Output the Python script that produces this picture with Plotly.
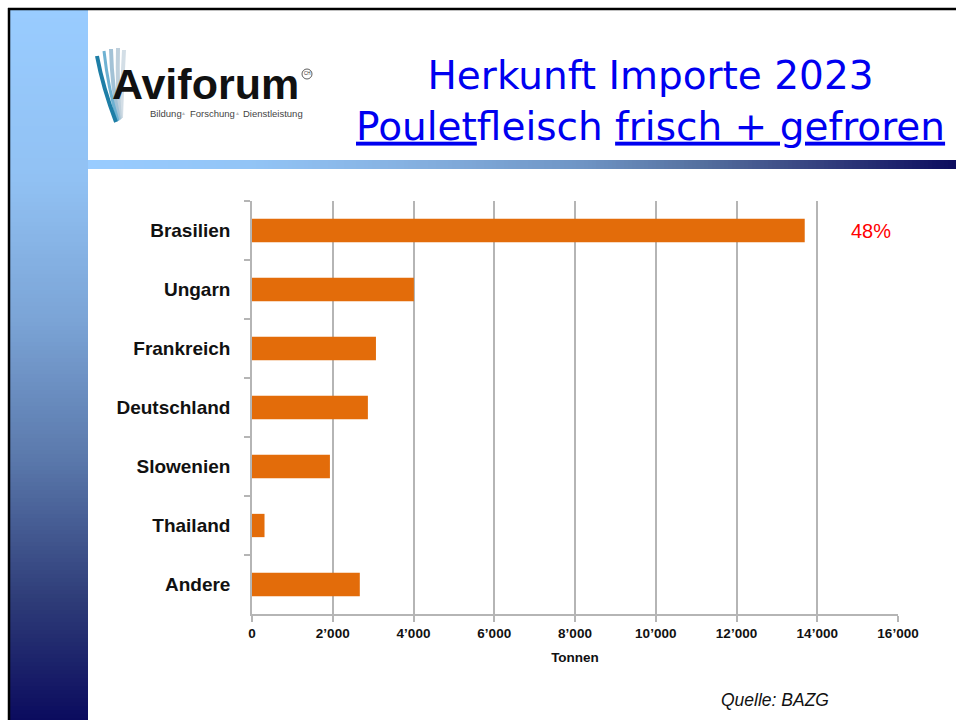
import plotly.graph_objects as go

# ---------------- data ----------------
countries = ["Brasilien", "Ungarn", "Frankreich", "Deutschland", "Slowenien", "Thailand", "Andere"]
tonnen = [13690, 4010, 3070, 2870, 1930, 310, 2670]
tick_values = [0, 2000, 4000, 6000, 8000, 10000, 12000, 14000, 16000]
tick_labels = ["0", "2’000", "4’000", "6’000", "8’000", "10’000", "12’000", "14’000", "16’000"]
axis_title = "Tonnen"
source_text = "Quelle: BAZG"
title_line1 = "Herkunft Importe 2023"
title_line2 = "<u>Poulet</u>fleisch <u>frisch + gefroren</u>"

W, H = 956, 720
L, R, T, B = 252, 898, 201, 614


def px(x):
    return (x - L) / (R - L)


def py(y):
    return (B - y) / (B - T)


def hex2rgb(h):
    h = h.lstrip("#")
    return tuple(int(h[i:i + 2], 16) for i in (0, 2, 4))


def interp(stops, v):
    for (a, ca), (b, cb) in zip(stops[:-1], stops[1:]):
        if a <= v <= b:
            t = (v - a) / (b - a) if b > a else 0
            c1, c2 = hex2rgb(ca), hex2rgb(cb)
            return "rgb(%d,%d,%d)" % tuple(round(c1[i] + (c2[i] - c1[i]) * t) for i in range(3))
    return stops[-1][1] if v > stops[-1][0] else stops[0][1]


fig = go.Figure()
fig.add_trace(go.Bar(
    y=countries, x=tonnen, orientation="h",
    marker=dict(color="#E36C0A", line=dict(width=0)),
    hoverinfo="x+y",
))

total = sum(tonnen)
share = f"{round(100 * tonnen[0] / total)}%"

shapes = []
# left vertical gradient column
vstops = [(10, "#99CCFF"), (180, "#91C1F3"), (320, "#7BA4D6"), (460, "#5A78AB"),
          (600, "#2E3C78"), (720, "#0B0B5E")]
step = 4
y = 10
while y < 720:
    y2 = min(y + step, 720)
    shapes.append(dict(type="rect", xref="paper", yref="paper", x0=px(10), x1=px(88),
                       y0=py(y), y1=py(y2 + 0.6), line=dict(width=0),
                       fillcolor=interp(vstops, (y + y2) / 2), layer="below"))
    y = y2
# horizontal gradient bar
hstops = [(88, "#99CCFF"), (250, "#92C4F6"), (400, "#86B2E2"), (580, "#6F95C5"),
          (700, "#55709F"), (800, "#3A4883"), (956, "#0C0C5E")]
x = 88
while x < 956:
    x2 = min(x + step, 956)
    shapes.append(dict(type="rect", xref="paper", yref="paper", x0=px(x), x1=px(x2 + 0.6),
                       y0=py(169), y1=py(160), line=dict(width=0),
                       fillcolor=interp(hstops, (x + x2) / 2), layer="below"))
    x = x2
# black frame lines
shapes.append(dict(type="line", xref="paper", yref="paper", x0=px(8), x1=px(956),
                   y0=py(9), y1=py(9), line=dict(color="#000", width=2.5)))
shapes.append(dict(type="line", xref="paper", yref="paper", x0=px(9), x1=px(9),
                   y0=py(8), y1=py(720), line=dict(color="#000", width=2.5)))


# logo swoosh strokes
def path(points):
    s = "M %f,%f" % (px(points[0][0]), py(points[0][1]))
    s += " Q %f,%f %f,%f" % (px(points[1][0]), py(points[1][1]), px(points[2][0]), py(points[2][1]))
    return s


swoosh = [
    ([(124, 50), (122, 88), (121, 118)], "#D3DEE6", 4),
    ([(118, 48), (117, 88), (120, 119)], "#BFD0DC", 4),
    ([(111, 49), (112, 88), (119, 120)], "#A3C2D6", 4),
    ([(104, 51), (108, 88), (118, 121)], "#6FB2D2", 3),
    ([(97, 56), (103, 88), (116, 122)], "#1E7EA6", 4),
]
for pts, col, w in swoosh:
    shapes.append(dict(type="path", xref="paper", yref="paper", path=path(pts),
                       line=dict(color=col, width=w)))
# registered CH circle
shapes.append(dict(type="circle", xref="paper", yref="paper", x0=px(302), x1=px(312),
                   y0=py(79), y1=py(69), line=dict(color="#333", width=0.8)))

logo_font = "Liberation Sans, Arial"
annotations = [
    dict(text=title_line1 + "<br>" + title_line2, x=px(650), y=py(101), xref="paper", yref="paper",
         showarrow=False, xanchor="center", yanchor="middle",
         font=dict(family="DejaVu Sans", size=39, color="#0000F0")),
    dict(text="<b>Aviforum</b>", x=px(110), y=py(84), xref="paper", yref="paper",
         showarrow=False, xanchor="left", yanchor="middle",
         font=dict(family=logo_font, size=43, color="#111")),
    dict(text="CH", x=px(307), y=py(74), xref="paper", yref="paper",
         showarrow=False, xanchor="center", yanchor="middle",
         font=dict(family=logo_font, size=4.5, color="#333")),
    dict(text=share, x=15330, y=countries[0], xref="x", yref="y",
         showarrow=False, xanchor="center", yanchor="middle",
         font=dict(family="Liberation Sans, Arial", size=20, color="#FF0000")),
    dict(text="<i>" + source_text + "</i>", x=px(775), y=py(700), xref="paper", yref="paper",
         showarrow=False, xanchor="center", yanchor="middle",
         font=dict(family="Liberation Sans, Arial", size=17.5, color="#111")),
]
# logo subtitle words and separators
for word, xl in [("Bildung", 148), ("Forschung", 188), ("Dienstleistung", 241)]:
    annotations.append(dict(text=word, x=px(xl), y=py(113), xref="paper", yref="paper",
                            showarrow=False, xanchor="left", yanchor="middle",
                            font=dict(family=logo_font, size=9.5, color="#444")))
for xc in (183.5, 237):
    annotations.append(dict(text="▲", x=px(xc), y=py(113.5), xref="paper", yref="paper",
                            showarrow=False, xanchor="center", yanchor="middle",
                            font=dict(family=logo_font, size=5, color="#BBBBBB")))

fig.update_layout(
    width=W, height=H,
    margin=dict(l=L, r=W - R, t=T, b=H - B, pad=0),
    paper_bgcolor="white", plot_bgcolor="white",
    showlegend=False,
    bargap=0.605,
    shapes=shapes,
    annotations=annotations,
    font=dict(family="Liberation Sans, Arial", color="#111"),
)
fig.update_xaxes(
    range=[0, 16000], tickvals=tick_values, ticktext=tick_labels,
    showgrid=True, gridcolor="#B5B5B5", gridwidth=1.5, zeroline=False,
    showline=True, linecolor="#B5B5B5", linewidth=1.5,
    ticks="outside", ticklen=6, tickcolor="#B5B5B5", tickwidth=1.5,
    tickfont=dict(size=13.5, family="Liberation Sans, Arial", color="#111", weight="bold"),
    title=dict(text="<b>" + axis_title + "</b>", standoff=13,
               font=dict(size=13.5, family="Liberation Sans, Arial", color="#111")),
)
fig.update_yaxes(
    categoryorder="array", categoryarray=countries, autorange="reversed",
    showgrid=False, zeroline=False,
    showline=True, linecolor="#B5B5B5", linewidth=1.5,
    ticks="outside", tickson="boundaries", ticklen=6, tickcolor="#B5B5B5", tickwidth=1.5,
    ticklabelstandoff=16,
    tickfont=dict(size=19, family="Liberation Sans, Arial", color="#111", weight="bold"),
)

fig.write_html("out.html",
               config={"displayModeBar": False},
               post_script="document.body.style.margin='0';document.body.style.padding='0';")
